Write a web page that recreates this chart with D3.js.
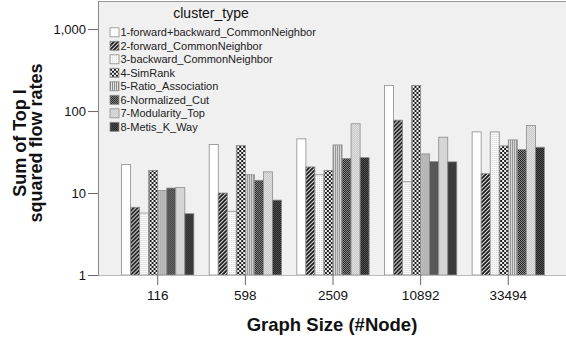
<!DOCTYPE html>
<html>
<head>
<meta charset="utf-8">
<script src="https://cdn.jsdelivr.net/npm/d3@7/dist/d3.min.js"></script>
<style>
  body { margin: 0; background: #fff; }
  text { font-family: "Liberation Sans", Arial, sans-serif; }
</style>
</head>
<body>
<script>
// graph sizes on the x axis
const categories = ['116', '598', '2509', '10892', '33494'];

const seriesNames = [
    '1-forward+backward_CommonNeighbor',
    '2-forward_CommonNeighbor',
    '3-backward_CommonNeighbor',
    '4-SimRank',
    '5-Ratio_Association',
    '6-Normalized_Cut',
    '7-Modularity_Top',
    '8-Metis_K_Way'
];

// one array per cluster type
const fwdBwdCN   = [22.2, 39.0, 45.8, 205, 55.7];
const fwdCN      = [6.7, 10.0, 20.8, 77.4, 17.2];
const bwdCN      = [5.7, 6.0, 16.7, 13.7, 55.7];
const simRank    = [18.9, 37.9, 18.9, 205, 37.6];
const ratioAssoc = [10.7, 16.7, 38.6, 30.0, 44.5];
const normCut    = [11.5, 14.3, 26.3, 24.2, 33.9];
const modularity = [11.7, 18.1, 70.0, 48.0, 66.6];
const metis      = [5.6, 8.2, 27.0, 24.0, 36.2];

const yTicks = [1, 10, 100, 1000];

const seriesValues = [fwdBwdCN, fwdCN, bwdCN, simRank, ratioAssoc, normCut, modularity, metis];

const W = 566, H = 337;
const plot = { left: 98, right: 566, top: 1, bottom: 275 };

const svg = d3.select('body').append('svg')
    .attr('width', W)
    .attr('height', H);

// fill patterns, one per series
const defs = svg.append('defs');

function pattern(id, size, draw) {
    const p = defs.append('pattern')
        .attr('id', id)
        .attr('patternUnits', 'userSpaceOnUse')
        .attr('width', size)
        .attr('height', size);
    draw(p);
}

function checker(p, cell, a, b) {
    p.append('rect').attr('width', cell * 2).attr('height', cell * 2).attr('fill', a);
    p.append('rect').attr('width', cell).attr('height', cell).attr('fill', b);
    p.append('rect').attr('x', cell).attr('y', cell).attr('width', cell).attr('height', cell).attr('fill', b);
}

pattern('p1', 4, p => {
    p.append('rect').attr('width', 4).attr('height', 4).attr('fill', '#fff');
});
pattern('p2', 4, p => {
    p.append('rect').attr('width', 4).attr('height', 4).attr('fill', '#f4f4f4');
    p.append('path').attr('d', 'M-1,1 l2,-2 M0,4 l4,-4 M3,5 l2,-2')
        .attr('stroke', '#111').attr('stroke-width', 1.8);
});
pattern('p3', 2, p => {
    p.append('rect').attr('width', 2).attr('height', 2).attr('fill', '#fafafa');
    p.append('rect').attr('width', 1).attr('height', 1).attr('fill', '#d4d4d4');
});
pattern('p4', 4, p => checker(p, 2, '#f2f2f2', '#1e1e1e'));
pattern('p5', 2, p => {
    p.append('rect').attr('width', 2).attr('height', 2).attr('fill', '#e4e4e4');
    p.append('rect').attr('width', 1).attr('height', 2).attr('fill', '#8a8a8a');
});
pattern('p6', 2, p => checker(p, 1, '#9a9a9a', '#151515'));
pattern('p7', 2, p => checker(p, 1, '#e6e6e6', '#c4c4c4'));
pattern('p8', 2, p => checker(p, 1, '#5a5a5a', '#1a1a1a'));

const fills = d3.range(1, 9).map(i => `url(#p${i})`);

// plot background
svg.append('rect')
    .attr('x', plot.left)
    .attr('y', plot.top)
    .attr('width', plot.right - plot.left)
    .attr('height', plot.bottom - plot.top)
    .attr('fill', '#f0f0f0');
svg.append('line')
    .attr('x1', plot.left).attr('x2', plot.right)
    .attr('y1', plot.top + 0.5).attr('y2', plot.top + 0.5)
    .attr('stroke', '#999');

const x = d3.scaleBand()
    .domain(categories)
    .range([113.9, 552.1])
    .paddingInner(0.175)
    .paddingOuter(0.0875);

const xInner = d3.scaleBand()
    .domain(d3.range(seriesNames.length))
    .range([0, x.bandwidth()]);

const y = d3.scaleLog()
    .domain([1, 2200])
    .range([plot.bottom, plot.top]);

// bars
const groups = svg.append('g').selectAll('g')
    .data(categories)
    .join('g')
    .attr('transform', d => `translate(${x(d)},0)`);

groups.selectAll('rect')
    .data((d, i) => seriesValues.map((vals, s) => ({ s, v: vals[i] })))
    .join('rect')
    .attr('x', d => xInner(d.s))
    .attr('width', xInner.bandwidth())
    .attr('y', d => y(d.v))
    .attr('height', d => plot.bottom - y(d.v))
    .attr('fill', d => fills[d.s])
    .attr('stroke', '#8c8c8c')
    .attr('stroke-width', 0.8);

// axes
const xAxis = svg.append('g')
    .attr('transform', `translate(0,${plot.bottom})`)
    .call(d3.axisBottom(x).tickSize(10).tickPadding(5).tickSizeOuter(0));
xAxis.select('.domain').attr('stroke', '#bbb').attr('d', `M${plot.left},0.5H${plot.right}`);
xAxis.selectAll('.tick line').attr('stroke', '#666');
xAxis.selectAll('.tick text').attr('font-size', 13.5).attr('fill', '#111');

const yAxis = svg.append('g')
    .attr('transform', `translate(${plot.left},0)`)
    .call(d3.axisLeft(y).tickValues(yTicks).tickFormat(d3.format(',')).tickSize(10).tickPadding(2).tickSizeOuter(0));
yAxis.select('.domain').attr('stroke', '#888');
yAxis.selectAll('.tick line').attr('stroke', '#666');
yAxis.selectAll('.tick text').attr('font-size', 13).attr('fill', '#111');

// axis titles
svg.append('text')
    .attr('x', 332)
    .attr('y', 331)
    .attr('text-anchor', 'middle')
    .attr('font-size', 18.5)
    .attr('font-weight', 'bold')
    .attr('fill', '#111')
    .text('Graph Size (#Node)');

const yTitle = svg.append('text')
    .attr('transform', 'translate(26,143) rotate(-90)')
    .attr('text-anchor', 'middle')
    .attr('font-size', 18)
    .attr('font-weight', 'bold')
    .attr('fill', '#111');
yTitle.append('tspan').attr('x', 0).attr('y', 0).text('Sum of Top l');
yTitle.append('tspan').attr('x', 0).attr('y', 16).text('squared flow rates');

// legend
const legend = svg.append('g');
legend.append('text')
    .attr('x', 211)
    .attr('y', 18)
    .attr('text-anchor', 'middle')
    .attr('font-size', 14)
    .attr('fill', '#111')
    .text('cluster_type');

const item = legend.selectAll('g.item')
    .data(seriesNames)
    .join('g')
    .attr('class', 'item')
    .attr('transform', (d, i) => `translate(110,${32.3 + i * 13.5})`);
item.append('rect')
    .attr('x', 0).attr('y', -4.5)
    .attr('width', 9).attr('height', 9)
    .attr('fill', (d, i) => fills[i])
    .attr('stroke', '#8c8c8c')
    .attr('stroke-width', 0.8);
item.append('text')
    .attr('x', 10.5)
    .attr('y', 4)
    .attr('font-size', 11)
    .attr('fill', '#222')
    .text(d => d);
</script>
</body>
</html>
